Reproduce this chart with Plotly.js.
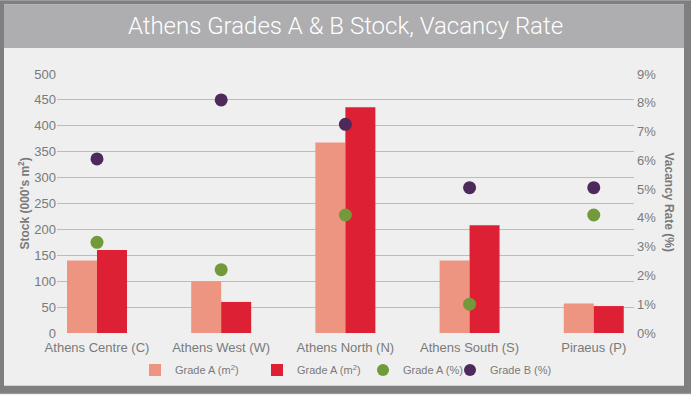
<!DOCTYPE html>
<html>
<head>
<meta charset="utf-8">
<script src="https://cdn.plot.ly/plotly-3.0.1.min.js"></script>
<style>
  html, body { margin: 0; padding: 0; background: #efefef; }
  #chart { width: 691px; height: 395px; }
</style>
</head>
<body>
<div id="chart"></div>
<script>
// ---- data ----
const categories = ["Athens Centre (C)", "Athens West (W)", "Athens North (N)", "Athens South (S)", "Piraeus (P)"];
const stockGradeA = [140, 100, 368, 140, 57];
const stockGradeB = [160, 60, 436, 208, 52];
const vacancyGradeA = [3.15, 2.2, 4.1, 1.0, 4.1];
const vacancyGradeB = [6.05, 8.1, 7.25, 5.05, 5.05];
const seriesNames = ["Grade A (m<sup>2</sup>)", "Grade A (m<sup>2</sup>)", "Grade A (%)", "Grade B (%)"];
const stockTicks = [0, 50, 100, 150, 200, 250, 300, 350, 400, 450, 500];
const vacancyTicks = [0, 1, 2, 3, 4, 5, 6, 7, 8, 9];
const vacancyTickText = vacancyTicks.map(v => v + "%");

// ---- geometry helpers (layout only) ----
const W = 691, H = 395;
const M = { l: 57, r: 57, t: 74, b: 61 };
const PW = W - M.l - M.r, PH = H - M.t - M.b;
const px = x => (x - M.l) / PW;
const py = y => (H - M.b - y) / PH;

const grey = "#7a7a7a";
const FONT = "Liberation Sans, Arial, sans-serif";

const traces = [
  { type: "bar", name: seriesNames[0], x: categories, y: stockGradeA,
    marker: { color: "#ee9581" }, yaxis: "y", legend: "legend" },
  { type: "bar", name: seriesNames[1], x: categories, y: stockGradeB,
    marker: { color: "#dd2033" }, yaxis: "y", legend: "legend2" },
  { type: "scatter", mode: "markers", name: seriesNames[2], x: categories, y: vacancyGradeA,
    marker: { color: "#72993a", size: 13 }, yaxis: "y2", legend: "legend3" },
  { type: "scatter", mode: "markers", name: seriesNames[3], x: categories, y: vacancyGradeB,
    marker: { color: "#4d2a5b", size: 13 }, yaxis: "y2", legend: "legend4" }
];

function legendAt(cx) {
  return {
    orientation: "h", x: px(cx - 19), xanchor: "left", y: py(370), yanchor: "middle",
    font: { size: 11, color: grey }, bgcolor: "rgba(0,0,0,0)", itemsizing: "constant"
  };
}

const layout = {
  width: W, height: H,
  margin: M,
  paper_bgcolor: "#efefef",
  plot_bgcolor: "rgba(0,0,0,0)",
  font: { family: FONT, color: grey, size: 13 },
  title: {
    text: "Athens Grades A & B Stock, Vacancy Rate",
    font: { family: "Roboto, Liberation Sans, sans-serif", size: 24, color: "#ffffff", weight: 300 },
    x: 0.5, xanchor: "center", xref: "paper",
    y: 1 - 26 / H, yanchor: "middle", yref: "container"
  },
  barmode: "group",
  bargap: 0.517,
  bargroupgap: 0,
  showlegend: true,
  legend: legendAt(154),
  legend2: legendAt(276),
  legend3: legendAt(382),
  legend4: legendAt(469),
  xaxis: {
    type: "category", range: [-0.322, 4.324],
    showgrid: false, zeroline: false, showline: false,
    ticks: "outside", ticklen: 2, tickcolor: "rgba(0,0,0,0)",
    tickfont: { size: 13, color: grey }, fixedrange: true
  },
  yaxis: {
    range: [0, 500], tickvals: stockTicks, showgrid: true, gridcolor: "#bcbcbc", gridwidth: 1,
    zeroline: false, showline: false, ticks: "", ticklabelstandoff: 0,
    tickfont: { size: 13, color: grey }, fixedrange: true
  },
  yaxis2: {
    overlaying: "y", side: "right", range: [0, 9], tickvals: vacancyTicks, ticktext: vacancyTickText,
    showgrid: false, zeroline: false, showline: false, ticks: "", ticklabelstandoff: 2,
    tickfont: { size: 13, color: grey }, fixedrange: true
  },
  shapes: [
    { type: "rect", xref: "paper", yref: "paper", layer: "below",
      x0: px(0), x1: px(W), y0: py(0), y1: py(H), fillcolor: "#7f7f7f", line: { width: 0 } },
    { type: "rect", xref: "paper", yref: "paper", layer: "below",
      x0: px(4), x1: px(684), y0: py(4), y1: py(387), fillcolor: "#efefef", line: { width: 0 } },
    { type: "rect", xref: "paper", yref: "paper", layer: "below",
      x0: px(4), x1: px(684), y0: py(4), y1: py(48), fillcolor: "#aeadb0", line: { width: 0 } }
  ],
  annotations: [
    { text: "<b>Stock (000's m<sup>2</sup>)</b>", xref: "paper", yref: "paper",
      x: px(23), y: py(204), textangle: -90, showarrow: false,
      font: { size: 12, color: grey }, xanchor: "center", yanchor: "middle" },
    { text: "<b>Vacancy Rate (%)</b>", xref: "paper", yref: "paper",
      x: px(669), y: py(202), textangle: 90, showarrow: false,
      font: { size: 12, color: grey }, xanchor: "center", yanchor: "middle" }
  ]
};

Plotly.newPlot("chart", traces, layout, { displayModeBar: false, staticPlot: true });
</script>
</body>
</html>
